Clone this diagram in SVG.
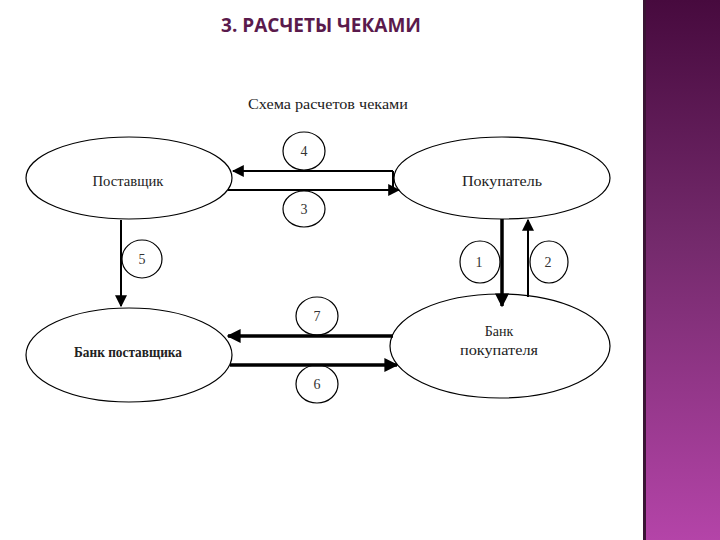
<svg xmlns="http://www.w3.org/2000/svg" width="720" height="540" viewBox="0 0 720 540">
<defs>
<linearGradient id="bar" x1="0" y1="0" x2="0" y2="1">
<stop offset="0" stop-color="#470a3e"/>
<stop offset="0.45" stop-color="#742a6c"/>
<stop offset="1" stop-color="#b444a8"/>
</linearGradient>
<marker id="ah" viewBox="0 0 10 10" refX="9" refY="5" markerWidth="4" markerHeight="4" orient="auto" markerUnits="strokeWidth">
<path d="M0,0 L10,5 L0,10 z" fill="#000"/>
</marker>
<marker id="ahs" viewBox="0 0 10 10" refX="9" refY="5" markerWidth="6" markerHeight="6" orient="auto" markerUnits="strokeWidth">
<path d="M0,0 L10,5 L0,10 z" fill="#000"/>
</marker>
</defs>
<style>
.node{fill:#fff;stroke:#000;stroke-width:1.2}
.lbl{font-family:"Liberation Serif",serif;font-size:14px;fill:#222;text-anchor:middle}
.num{font-family:"Liberation Serif",serif;font-size:14px;fill:#333;text-anchor:middle}
.circ{fill:#fff;stroke:#000;stroke-width:1.2}
.thick{stroke:#000;stroke-width:3.5;fill:none}
.thin{stroke:#000;stroke-width:2;fill:none}
</style>
<rect width="720" height="540" fill="#fff"/>
<rect x="643" y="0" width="77" height="540" fill="url(#bar)"/>
<rect x="643" y="0" width="3" height="540" fill="#3a1434"/>
<text x="321" y="32" font-family="'Open Sans','DejaVu Sans',sans-serif" font-weight="bold" font-size="19" fill="#5a1a4c" text-anchor="middle">3. РАСЧЕТЫ ЧЕКАМИ</text>
<text x="328" y="109" font-family="'Liberation Serif',serif" font-size="15" fill="#222" text-anchor="middle" textLength="160" lengthAdjust="spacingAndGlyphs">Схема расчетов чеками</text>
<g id="n4"><ellipse class="circ" cx="304" cy="151" rx="21" ry="19"/><text class="num" x="304" y="156">4</text></g>
<g id="n3"><ellipse class="circ" cx="304" cy="209" rx="21" ry="18"/><text class="num" x="304" y="214">3</text></g>
<g id="n5"><ellipse class="circ" cx="142" cy="259" rx="20" ry="19"/><text class="num" x="142" y="264">5</text></g>
<g id="n1"><ellipse class="circ" cx="480" cy="262" rx="20" ry="21"/><text class="num" x="479" y="267">1</text></g>
<g id="n2"><ellipse class="circ" cx="549" cy="262" rx="19" ry="21"/><text class="num" x="548" y="267">2</text></g>
<g id="n7"><ellipse class="circ" cx="317" cy="316" rx="21" ry="19"/><text class="num" x="317" y="321">7</text></g>
<g id="n6"><ellipse class="circ" cx="317" cy="384" rx="21" ry="19"/><text class="num" x="317" y="389">6</text></g>
<g id="postavshik"><ellipse class="node" cx="129" cy="178" rx="103" ry="41"/><text class="lbl" x="128" y="186" textLength="71" lengthAdjust="spacingAndGlyphs">Поставщик</text></g>
<g id="pokupatel"><ellipse class="node" cx="502" cy="178" rx="108" ry="41"/><text class="lbl" x="502" y="186" textLength="80" lengthAdjust="spacingAndGlyphs">Покупатель</text></g>
<g id="bank_post"><ellipse class="node" cx="129" cy="355" rx="103" ry="47"/><text class="lbl" x="128" y="357" font-weight="bold" textLength="108" lengthAdjust="spacingAndGlyphs">Банк поставщика</text></g>
<g id="bank_pok"><ellipse class="node" cx="500" cy="346" rx="110" ry="52"/><text class="lbl" x="499" y="336">Банк</text><text class="lbl" x="499" y="355" textLength="78" lengthAdjust="spacingAndGlyphs">покупателя</text></g>
<g id="connectors">
<path class="thin" d="M393,171 L393,190"/>
<line class="thin" x1="393" y1="171" x2="233" y2="171" marker-end="url(#ahs)"/>
<line class="thin" x1="228" y1="190" x2="399" y2="190" marker-end="url(#ahs)"/>
<line class="thin" x1="121" y1="220" x2="121" y2="306" marker-end="url(#ahs)"/>
<line class="thick" x1="502" y1="219" x2="502" y2="306" marker-end="url(#ah)"/>
<line class="thin" x1="528" y1="297" x2="528" y2="220" marker-end="url(#ahs)"/>
<line class="thick" x1="393" y1="336" x2="228" y2="336" marker-end="url(#ah)"/>
<line class="thick" x1="230" y1="365" x2="397" y2="365" marker-end="url(#ah)"/>
</g>
</svg>
